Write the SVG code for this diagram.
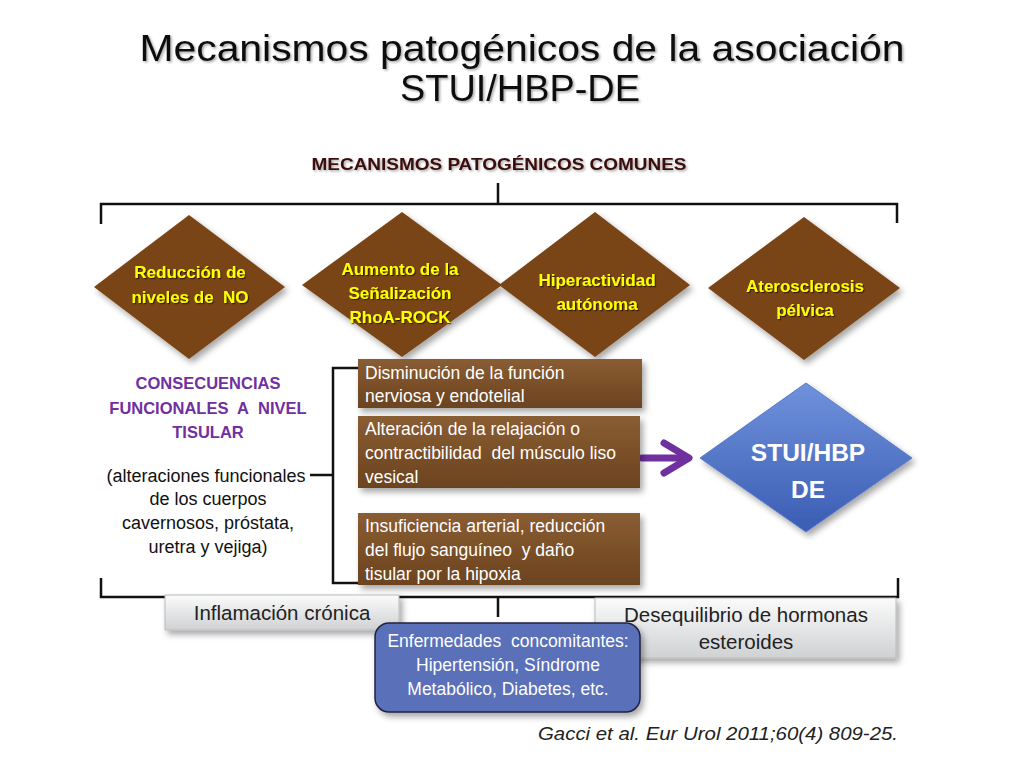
<svg xmlns="http://www.w3.org/2000/svg" width="1024" height="768" viewBox="0 0 1024 768" xml:space="preserve">
<defs>
  <filter id="sh" x="-20%" y="-20%" width="150%" height="150%">
    <feDropShadow dx="3" dy="4" stdDeviation="3" flood-color="#000" flood-opacity="0.35"/>
  </filter>
  <filter id="tsh" x="-5%" y="-20%" width="110%" height="150%">
    <feDropShadow dx="1.5" dy="1.5" stdDeviation="0.8" flood-color="#000" flood-opacity="0.35"/>
  </filter>
  <filter id="ysh" x="-5%" y="-20%" width="110%" height="150%">
    <feDropShadow dx="1.2" dy="1.2" stdDeviation="0.6" flood-color="#000" flood-opacity="0.6"/>
  </filter>
  <linearGradient id="brown" x1="0" y1="0" x2="0" y2="1">
    <stop offset="0" stop-color="#8a5d33"/>
    <stop offset="1" stop-color="#6b431f"/>
  </linearGradient>
  <linearGradient id="gray" x1="0" y1="0" x2="0" y2="1">
    <stop offset="0" stop-color="#fbfbfb"/>
    <stop offset="1" stop-color="#cfd1d3"/>
  </linearGradient>
  <linearGradient id="blue" x1="0" y1="0" x2="0" y2="1">
    <stop offset="0" stop-color="#7092dc"/>
    <stop offset="1" stop-color="#3a5cb3"/>
  </linearGradient>
  <style>
    text{white-space:pre}
    .title{font-family:"Liberation Sans",Arial,sans-serif;font-size:36px;fill:#111;text-anchor:middle}
    .hdr{font-family:"Liberation Sans",Arial,sans-serif;font-size:17px;font-weight:bold;fill:#3a0a0a;text-anchor:middle}
    .dia{fill:#7a4413}
    .dt{font-family:"Liberation Sans",Arial,sans-serif;font-size:17px;font-weight:bold;fill:#ffff00;text-anchor:middle}
    .pt{font-family:"Liberation Sans",Arial,sans-serif;font-size:16.5px;font-weight:bold;fill:#7030a0;text-anchor:middle}
    .bt{font-family:"Liberation Sans",Arial,sans-serif;font-size:18px;fill:#111;text-anchor:middle}
    .box{fill:url(#brown)}
    .wt{font-family:"Liberation Sans",Arial,sans-serif;font-size:17.5px;fill:#fff}
    .gbox{fill:url(#gray);stroke:#b8babc;stroke-width:1}
    .gt{font-family:"Liberation Sans",Arial,sans-serif;font-size:20.5px;fill:#222;text-anchor:middle}
    .et{font-family:"Liberation Sans",Arial,sans-serif;font-size:17.5px;fill:#fff;text-anchor:middle}
    .line{fill:none;stroke:#111;stroke-width:2.5}
    .cite{font-family:"Liberation Sans",Arial,sans-serif;font-size:19px;font-style:italic;fill:#222;text-anchor:end}
  </style>
</defs>

<g id="title" filter="url(#tsh)">
  <text class="title" x="522" y="61" textLength="765" lengthAdjust="spacingAndGlyphs">Mecanismos patogénicos de la asociación</text>
  <text class="title" x="520" y="101" textLength="240" lengthAdjust="spacingAndGlyphs">STUI/HBP-DE</text>
</g>

<g id="header" filter="url(#tsh)">
  <text class="hdr" x="499" y="170" textLength="375" lengthAdjust="spacingAndGlyphs">MECANISMOS PATOGÉNICOS COMUNES</text>
</g>

<g id="connectors">
  <path class="line" d="M498 183 V204 M101 224 V204 H897 V223"/>
  <path class="line" d="M101 578 V597 H898 V578 M498 597 V617"/>
  <path class="line" d="M358 368 H333 V583 H358 M310 475 H333"/>
  <g id="arrow" stroke="#7030a0" stroke-width="7" stroke-linecap="round" stroke-linejoin="round" fill="none">
    <path d="M642 458 H688"/>
    <path d="M664 443 L689 458 L664 473"/>
  </g>
</g>

<g id="node-reduccion">
  <polygon class="dia" filter="url(#sh)" points="189,215 285,287 189,359 94,287"/>
  <g filter="url(#ysh)">
    <text class="dt" x="190" y="278">Reducción de</text>
    <text class="dt" x="190" y="303">niveles de&#160; NO</text>
  </g>
</g>

<g id="node-aumento">
  <polygon class="dia" filter="url(#sh)" points="402,212 502,285 402,357 302,285"/>
  <g filter="url(#ysh)">
    <text class="dt" x="400" y="275">Aumento de la</text>
    <text class="dt" x="400" y="299">Señalización</text>
    <text class="dt" x="400" y="323">RhoA-ROCK</text>
  </g>
</g>

<g id="node-hiperactividad">
  <polygon class="dia" filter="url(#sh)" points="595,212 690,285 595,357 499,285"/>
  <g filter="url(#ysh)">
    <text class="dt" x="597" y="286">Hiperactividad</text>
    <text class="dt" x="597" y="310">autónoma</text>
  </g>
</g>

<g id="node-aterosclerosis">
  <polygon class="dia" filter="url(#sh)" points="804,217 900,288 804,360 708,288"/>
  <g filter="url(#ysh)">
    <text class="dt" x="805" y="292">Aterosclerosis</text>
    <text class="dt" x="805" y="316">pélvica</text>
  </g>
</g>

<g id="node-consecuencias">
  <text class="pt" x="208" y="389">CONSECUENCIAS</text>
  <text class="pt" x="208" y="414">FUNCIONALES&#160; A&#160; NIVEL</text>
  <text class="pt" x="208" y="438">TISULAR</text>
  <text class="bt" x="206" y="482">(alteraciones funcionales</text>
  <text class="bt" x="208" y="505">de los cuerpos</text>
  <text class="bt" x="208" y="529">cavernosos, próstata,</text>
  <text class="bt" x="208" y="553">uretra y vejiga)</text>
</g>

<g id="node-disminucion">
  <rect class="box" filter="url(#sh)" x="358" y="359" width="284" height="49"/>
  <text class="wt" x="365" y="379">Disminución de la función</text>
  <text class="wt" x="365" y="402">nerviosa y endotelial</text>
</g>

<g id="node-alteracion">
  <rect class="box" filter="url(#sh)" x="358" y="416" width="282" height="72"/>
  <text class="wt" x="365" y="435">Alteración de la relajación o</text>
  <text class="wt" x="365" y="459">contractibilidad&#160; del músculo liso</text>
  <text class="wt" x="365" y="483">vesical</text>
</g>

<g id="node-insuficiencia">
  <rect class="box" filter="url(#sh)" x="358" y="513" width="282" height="72"/>
  <text class="wt" x="365" y="532">Insuficiencia arterial, reducción</text>
  <text class="wt" x="365" y="556">del flujo sanguíneo&#160; y daño</text>
  <text class="wt" x="365" y="580">tisular por la hipoxia</text>
</g>

<g id="node-stui">
  <polygon filter="url(#sh)" points="806,383 912,458 806,532 700,458" fill="url(#blue)" stroke="#5a7cc8" stroke-width="1"/>
  <text x="808" y="461" font-family="Liberation Sans, Arial, sans-serif" font-size="24.5" font-weight="bold" fill="#fff" text-anchor="middle">STUI/HBP</text>
  <text x="808" y="498" font-family="Liberation Sans, Arial, sans-serif" font-size="24.5" font-weight="bold" fill="#fff" text-anchor="middle">DE</text>
</g>

<g id="node-inflamacion">
  <rect class="gbox" filter="url(#sh)" x="165" y="595" width="234" height="35"/>
  <text class="gt" x="282" y="620">Inflamación crónica</text>
</g>

<g id="node-desequilibrio">
  <rect class="gbox" filter="url(#sh)" x="595" y="598" width="301" height="60"/>
  <text class="gt" x="746" y="622">Desequilibrio de hormonas</text>
  <text class="gt" x="746" y="649">esteroides</text>
</g>

<g id="node-enfermedades">
  <rect filter="url(#sh)" x="375" y="623" width="265" height="89" rx="14" fill="#5a6fb9" stroke="#1f2440" stroke-width="1.5"/>
  <text class="et" x="508" y="647">Enfermedades&#160; concomitantes:</text>
  <text class="et" x="508" y="671">Hipertensión, Síndrome</text>
  <text class="et" x="508" y="695">Metabólico, Diabetes, etc.</text>
</g>

<g id="citation">
  <text class="cite" x="898" y="740" textLength="360" lengthAdjust="spacingAndGlyphs">Gacci et al. Eur Urol 2011;60(4) 809-25.</text>
</g>
</svg>
